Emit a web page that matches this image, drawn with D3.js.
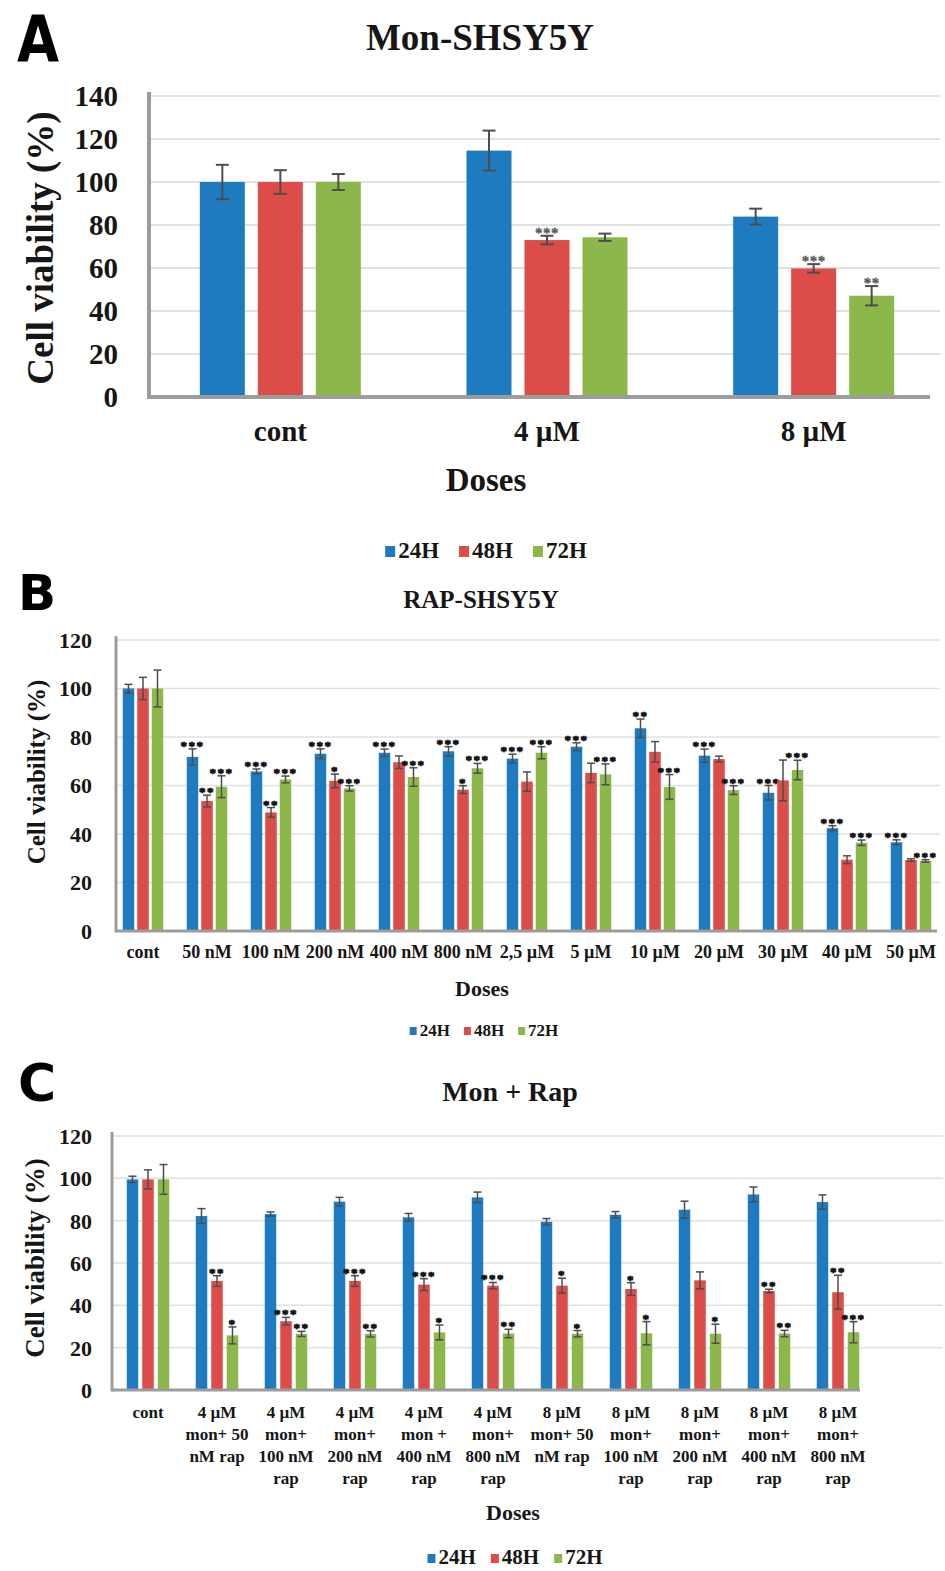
<!DOCTYPE html>
<html>
<head>
<meta charset="UTF-8">
<title>Cell viability</title>
<script src="https://d3js.org/d3.v7.min.js"></script>
<style>
  body { margin: 0; background: #fff; }
  svg text { font-family: "Liberation Serif", "Times New Roman", serif; font-weight: bold; fill: #161616; }
  svg text.letter { font-family: "DejaVu Sans", sans-serif; fill: #000; }
</style>
</head>
<body>
<div id="chart"></div>
<script>
// series shared by the three panels
const seriesNames = ["24H", "48H", "72H"];
const seriesColors = ["#1f7bc0", "#dc4c48", "#8cb84b"];

// panel A : Mon-SHSY5Y
const catsA = ["cont", "4 µM", "8 µM"];
const a24 = [100, 114.6, 83.9];
const a48 = [100, 73, 59.8];
const a72 = [100, 74.3, 47.1];
const errA24 = [8, 9.3, 3.7];
const errA48 = [5.5, 2, 2];
const errA72 = [3.7, 1.7, 4.5];
const sigA24 = ["", "", ""];
const sigA48 = ["", "***", "***"];
const sigA72 = ["", "", "**"];
const ticksA = [0, 20, 40, 60, 80, 100, 120, 140];

// panel B : RAP-SHSY5Y
const catsB = ["cont", "50 nM", "100 nM", "200 nM", "400 nM", "800 nM", "2,5 µM", "5 µM", "10 µM", "20 µM", "30 µM", "40 µM", "50 µM"];
const b24 = [100, 71.8, 65.8, 73.1, 73.5, 74.1, 71.1, 76, 83.6, 72.3, 57, 42.4, 36.6];
const b48 = [100, 53.6, 48.9, 61.9, 69.6, 58.3, 61.6, 65.2, 73.9, 70.9, 62.1, 29.4, 29.3];
const b72 = [100, 59.5, 62.5, 58.8, 63.5, 67.1, 73.5, 64.6, 59.4, 58.1, 66.4, 36.4, 28.9];
const errB24 = [1.7, 3.3, 1, 2, 1.5, 1.9, 1.8, 1.6, 3.8, 2.7, 3, 1, 1];
const errB48 = [4.6, 2.4, 2, 2.8, 2.6, 1.6, 4, 4, 4.2, 1.2, 8.4, 1.6, 0.5];
const errB72 = [7.6, 4.5, 1.4, 1.1, 3.8, 2, 2.5, 4.3, 5.1, 1.8, 4, 1.1, 0.5];
const sigB24 = ["", "***", "***", "***", "***", "***", "***", "***", "**", "***", "***", "***", "***"];
const sigB48 = ["", "**", "**", "*", "", "*", "", "", "", "", "", "", ""];
const sigB72 = ["", "***", "***", "***", "***", "***", "***", "***", "***", "***", "***", "***", "***"];
const ticksB = [0, 20, 40, 60, 80, 100, 120];

// panel C : Mon + Rap  ("|" = line break)
const catsC = ["cont", "4 µM|mon+ 50|nM rap", "4 µM|mon+|100 nM|rap", "4 µM|mon+|200 nM|rap", "4 µM|mon +|400 nM|rap", "4 µM|mon+|800 nM|rap",
  "8 µM|mon+ 50|nM rap", "8 µM|mon+|100 nM|rap", "8 µM|mon+|200 nM|rap", "8 µM|mon+|400 nM|rap", "8 µM|mon+|800 nM|rap"];
const c24 = [99.5, 82.2, 83.1, 89, 81.6, 91, 79.5, 82.8, 85.2, 92.4, 88.8];
const c48 = [99.5, 51.5, 32.5, 51.5, 49.8, 49.3, 49.3, 47.7, 51.8, 46.8, 46.2];
const c72 = [99.5, 25.8, 26.5, 26.5, 27.2, 26.7, 26.6, 26.8, 26.6, 26.7, 27.3];
const errC24 = [1.5, 3.5, 1, 2, 1.8, 2.5, 1.5, 1.5, 4, 3.5, 3.4];
const errC48 = [4.5, 2.5, 1.8, 2.5, 2.8, 1.5, 3.5, 3, 4, 0.8, 8];
const errC72 = [7, 4, 1.2, 1.5, 3.5, 2, 1.5, 5.5, 4.5, 1.5, 5];
const sigC24 = ["", "", "", "", "", "", "", "", "", "", ""];
const sigC48 = ["", "**", "***", "***", "***", "***", "*", "*", "", "**", "**"];
const sigC72 = ["", "*", "**", "**", "*", "**", "*", "*", "*", "**", "***"];
const ticksC = [0, 20, 40, 60, 80, 100, 120];

const svg = d3.select("#chart").append("svg")
    .attr("width", 945)
    .attr("height", 1571);

function drawPanel(o) {
    const g = svg.append("g");
    const x = d3.scaleBand().domain(o.cats).range(o.xRange);
    const inner = d3.scaleBand().domain(seriesNames)
        .range([-o.groupW / 2, o.groupW / 2]).paddingInner(o.pad);
    const y = d3.scaleLinear().domain([0, o.yMax]).range(o.yRange);

    // gridlines
    g.append("g").selectAll("line")
        .data(o.ticks.filter(t => t > 0))
        .join("line")
        .attr("x1", o.axisX).attr("x2", o.gridEnd)
        .attr("y1", d => y(d)).attr("y2", d => y(d))
        .attr("stroke", "#e1e1e1").attr("stroke-width", o.gridW);

    // y tick labels
    const ya = g.append("g").attr("transform", `translate(${o.axisX},0)`)
        .call(d3.axisLeft(y).tickValues(o.ticks).tickSize(0).tickPadding(o.yPad));
    ya.select(".domain").remove();
    ya.selectAll("text").attr("font-size", o.tickFont).attr("dy", "0.34em");

    // bars, error bars and stars
    seriesNames.forEach((s, si) => {
        const data = o.cats.map((c, i) => ({c: c, v: o.vals[si][i], e: o.errs[si][i], s: o.sigs[si][i]}));
        const cx = d => x(d.c) + x.bandwidth() / 2 + inner(s) + inner.bandwidth() / 2;
        const sg = g.append("g");
        sg.selectAll("rect").data(data).join("rect")
            .attr("x", d => cx(d) - inner.bandwidth() / 2)
            .attr("width", inner.bandwidth())
            .attr("y", d => y(d.v))
            .attr("height", d => y(0) - y(d.v))
            .attr("fill", seriesColors[si]);
        const eb = sg.append("g").attr("stroke", "#4d4d4d").attr("stroke-width", o.errW);
        eb.selectAll(".v").data(data).join("line")
            .attr("x1", cx).attr("x2", cx)
            .attr("y1", d => y(d.v - d.e)).attr("y2", d => y(d.v + d.e));
        eb.selectAll(".t").data(data).join("line")
            .attr("x1", d => cx(d) - o.capW / 2).attr("x2", d => cx(d) + o.capW / 2)
            .attr("y1", d => y(d.v + d.e)).attr("y2", d => y(d.v + d.e));
        eb.selectAll(".b").data(data).join("line")
            .attr("x1", d => cx(d) - o.capW / 2).attr("x2", d => cx(d) + o.capW / 2)
            .attr("y1", d => y(d.v - d.e)).attr("y2", d => y(d.v - d.e));
        sg.selectAll("text").data(data.filter(d => d.s)).join("text")
            .attr("x", cx)
            .attr("y", d => y(d.v + d.e) + o.starDy)
            .attr("text-anchor", "middle")
            .attr("font-size", o.starFont)
            .style("letter-spacing", o.starSpace + "px")
            .style("fill", o.starColor)
            .style("stroke", o.starColor)
            .style("stroke-width", o.starStroke)
            .text(d => d.s);
    });

    // axis lines
    g.append("line")
        .attr("x1", o.axisX).attr("x2", o.axisX)
        .attr("y1", y(o.yMax) - 4).attr("y2", y(0) + o.axisW / 2)
        .attr("stroke", "#9c9c9c").attr("stroke-width", o.axisW);
    g.append("line")
        .attr("x1", o.axisX).attr("x2", o.axisEnd)
        .attr("y1", y(0)).attr("y2", y(0))
        .attr("stroke", "#9c9c9c").attr("stroke-width", o.axisW);

    // x labels
    const xa = g.append("g").attr("transform", `translate(0,${y(0)})`)
        .call(d3.axisBottom(x).tickSize(0));
    xa.select(".domain").remove();
    xa.selectAll("text")
        .attr("font-size", o.xFont)
        .attr("y", o.xBase - y(0))
        .attr("dy", 0)
        .each(function(d) {
            const parts = d.split("|");
            const t = d3.select(this).text(null);
            parts.forEach((p, k) => {
                t.append("tspan").attr("x", 0).attr("dy", k === 0 ? 0 : o.lineH).text(p);
            });
        });

    // titles
    g.append("text").attr("class", "letter")
        .attr("transform", `translate(${o.letter.x},${o.letter.y}) scale(${o.letter.sx},1)`)
        .attr("font-size", o.letter.size)
        .text(o.letter.t);
    g.append("text")
        .attr("x", o.title.x).attr("y", o.title.y)
        .attr("text-anchor", "middle").attr("font-size", o.title.size)
        .text(o.title.t);
    g.append("text")
        .attr("transform", `translate(${o.ylab.x},${o.ylab.y}) rotate(-90)`)
        .attr("text-anchor", "middle").attr("font-size", o.ylab.size)
        .text("Cell viability (%)");
    g.append("text")
        .attr("x", o.xlab.x).attr("y", o.xlab.y)
        .attr("text-anchor", "middle").attr("font-size", o.xlab.size)
        .text("Doses");

    // legend
    const lg = g.append("g");
    let lx = 0;
    seriesNames.forEach((s, si) => {
        lg.append("rect")
            .attr("x", lx).attr("y", o.legend.y - o.legend.sq - o.legend.sqUp)
            .attr("width", o.legend.sq).attr("height", o.legend.sq + 1)
            .attr("fill", seriesColors[si]);
        const t = lg.append("text")
            .attr("x", lx + o.legend.sq + 3).attr("y", o.legend.y)
            .attr("font-size", o.legend.size)
            .text(s);
        lx += o.legend.sq + 3 + t.node().getComputedTextLength() + o.legend.gap;
    });
    lx -= o.legend.gap;
    lg.attr("transform", `translate(${o.legend.cx - lx / 2},0)`);
}

drawPanel({
    cats: catsA, vals: [a24, a48, a72], errs: [errA24, errA48, errA72], sigs: [sigA24, sigA48, sigA72],
    ticks: ticksA, yMax: 140, yRange: [397, 96], xRange: [147, 947],
    groupW: 161, pad: 0.224, axisX: 149, gridEnd: 940, axisEnd: 930, gridW: 2, axisW: 4,
    yPad: 31, tickFont: 29, errW: 2, capW: 13, starFont: 15, starDy: 2, starSpace: 0.5,
    starColor: "#555", starStroke: 0.3,
    xFont: 29, xBase: 441, lineH: 0,
    letter: {t: "A", x: 17, y: 62, size: 64, sx: 0.85},
    title: {t: "Mon-SHSY5Y", x: 480, y: 50, size: 37},
    ylab: {x: 53, y: 248, size: 37},
    xlab: {x: 486, y: 491, size: 33},
    legend: {cx: 486, y: 558, size: 23, sq: 10, sqUp: 2, gap: 20}
});

drawPanel({
    cats: catsB, vals: [b24, b48, b72], errs: [errB24, errB48, errB72], sigs: [sigB24, sigB48, sigB72],
    ticks: ticksB, yMax: 120, yRange: [931, 640], xRange: [111, 943],
    groupW: 40.5, pad: 0.207, axisX: 116, gridEnd: 940, axisEnd: 937, gridW: 1.5, axisW: 3,
    yPad: 24, tickFont: 22, errW: 1.5, capW: 8, starFont: 13, starDy: 1, starSpace: 1.5,
    starColor: "#111", starStroke: 0.7,
    xFont: 18, xBase: 958, lineH: 0,
    letter: {t: "B", x: 18, y: 610, size: 50, sx: 1},
    title: {t: "RAP-SHSY5Y", x: 481, y: 608, size: 25},
    ylab: {x: 45, y: 772, size: 25},
    xlab: {x: 482, y: 996, size: 22},
    legend: {cx: 484, y: 1036, size: 17, sq: 7, sqUp: 2, gap: 14}
});

drawPanel({
    cats: catsC, vals: [c24, c48, c72], errs: [errC24, errC48, errC72], sigs: [sigC24, sigC48, sigC72],
    ticks: ticksC, yMax: 120, yRange: [1390, 1136], xRange: [113.5, 872.5],
    groupW: 42.5, pad: 0.258, axisX: 112, gridEnd: 943, axisEnd: 860, gridW: 1.5, axisW: 3,
    yPad: 20, tickFont: 22, errW: 1.5, capW: 8, starFont: 13, starDy: 1, starSpace: 1.5,
    starColor: "#111", starStroke: 0.7,
    xFont: 17, xBase: 1418, lineH: 22,
    letter: {t: "C", x: 18, y: 1101, size: 52, sx: 1},
    title: {t: "Mon + Rap", x: 510, y: 1101, size: 28},
    ylab: {x: 44, y: 1258, size: 27},
    xlab: {x: 513, y: 1520, size: 22},
    legend: {cx: 515, y: 1564, size: 21, sq: 8, sqUp: 2, gap: 15}
});
</script>
</body>
</html>
